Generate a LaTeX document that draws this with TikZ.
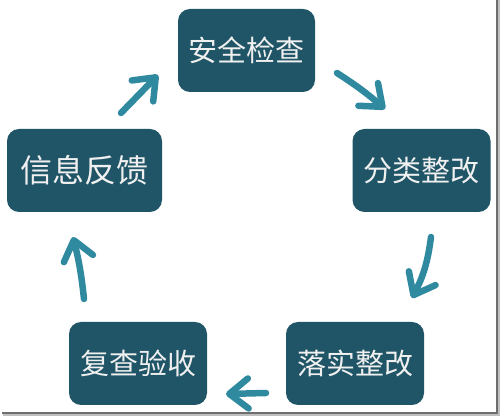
\documentclass[tikz,border=0pt]{standalone}
\usepackage{fontspec}
\newfontfamily\cjk{Noto Sans CJK SC}
\usetikzlibrary{arrows.meta}
\definecolor{fondetape}{HTML}{1F5566}
\definecolor{coulfleche}{HTML}{2F8AA0}
\definecolor{coulcadre}{HTML}{6E6E6E}
\begin{document}
\begin{tikzpicture}[x=1pt,y=1pt]
	% Styles (MODIFIABLES)
	\tikzstyle{etape}=[fill=fondetape, rounded corners=12pt, text=white!94!black, inner sep=0pt, minimum height=83pt, font=\cjk\fontsize{29}{29}\selectfont]
	\tikzstyle{fleche}=[draw=coulfleche, line width=6.5pt, line cap=round, line join=round, -{Straight Barb[length=19pt,width=30pt,round]}]
	\tikzstyle{cadre}=[draw=coulcadre, line width=1.2pt]
	\tikzstyle{ombre}=[draw=black!25, line width=2pt]
	% Dimensions (MODIFIABLES)
	\def\LargeurEtape{138pt}
	\def\LigneHaut{366.5}
	\def\LigneMilieu{246.5}
	\def\LigneBas{53.5}
	% Cadre
	\useasboundingbox (0,0) rectangle (501,417);
	\draw[ombre] (3,2) -- (499,2) -- (499,417);
	\draw[cadre] (2,4) -- (497,4) -- (497,417);
	% Noeuds
	\node[etape, minimum width=137pt] (Verif) at (246.5,\LigneHaut) {安全检查};
	\node[etape, minimum width=\LargeurEtape] (Classe) at (421.5,\LigneMilieu) {分类整改};
	\node[etape, minimum width=\LargeurEtape] (Mise) at (355,\LigneBas) {落实整改};
	\node[etape, minimum width=\LargeurEtape] (Recette) at (138,\LigneBas) {复查验收};
	\node[etape, minimum width=155pt, font=\cjk\fontsize{32}{32}\selectfont] (Retour) at (84.5,\LigneMilieu) {信息反馈};
	% Extrémités des flèches
	\coordinate (F1a) at (337,344);
	\coordinate (F1b) at (385,308);
	\coordinate (F2a) at (431,180);
	\coordinate (F2b) at (412,119);
	\coordinate (F3a) at (266,24);
	\coordinate (F3b) at (226,23);
	\coordinate (F4a) at (84,118);
	\coordinate (F4b) at (73,180);
	\coordinate (F5a) at (121,304);
	\coordinate (F5b) at (158,342);
	% Flèches
	\draw[fleche] (F1a) to[bend left=4] (F1b);
	\draw[fleche] (F2a) to[bend left=10] (F2b);
	\draw[fleche] (F3a) to (F3b);
	\draw[fleche] (F4a) to[bend right=4] (F4b);
	\draw[fleche] (F5a) to (F5b);
\end{tikzpicture}
\end{document}
